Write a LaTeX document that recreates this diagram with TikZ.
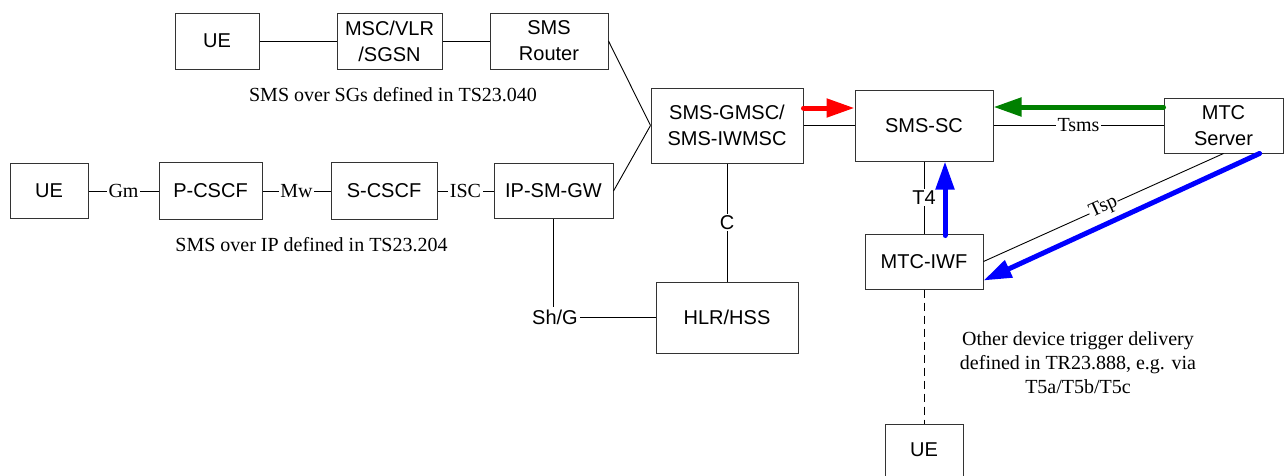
\documentclass[tikz,border=0pt]{standalone}
\usepackage{fontspec}
\setmainfont{Liberation Serif}
\setsansfont{Liberation Sans}
\usetikzlibrary{arrows.meta}
\definecolor{arrred}{RGB}{255,0,0}
\definecolor{arrgreen}{RGB}{0,128,0}
\definecolor{arrblue}{RGB}{0,0,255}
\tikzset{
  box/.style={draw=black!80, line width=1pt, inner sep=0pt, align=center,
    font=\sffamily\fontsize{20}{26}\selectfont},
  conn/.style={draw=black, line width=0.9pt},
  lbl/.style={fill=white, inner sep=1.5pt, font=\rmfamily\fontsize{20}{24}\selectfont},
  slbl/.style={fill=white, inner sep=1.5pt, font=\sffamily\fontsize{20}{24}\selectfont},
  note/.style={inner sep=0pt, align=center, font=\rmfamily\fontsize{20}{24}\selectfont},
  thick arrow/.style={line width=5pt, line cap=round,
    -{Triangle[length=28pt,width=18pt]}},
}
\begin{document}
\begin{tikzpicture}[x=1pt,y=-1pt]
\useasboundingbox (0,0) rectangle (1284,475);
% top row
\node[box, minimum width=84pt, minimum height=56pt] (ue1) at (217,41) {UE};
\node[box, minimum width=105pt, minimum height=56pt] (msc) at (389.5,41) {MSC/VLR\\/SGSN};
\node[box, minimum width=118pt, minimum height=56pt] (router) at (549,41) {SMS\\Router};
\node[note, anchor=base] (t1) at (393,101) {SMS over SGs defined in TS23.040};
% second row
\node[box, minimum width=78pt, minimum height=55pt] (ue2) at (49,191) {UE};
\node[box, minimum width=103pt, minimum height=57pt] (pcscf) at (210.5,191) {P-CSCF};
\node[box, minimum width=106pt, minimum height=57pt] (scscf) at (384,191) {S-CSCF};
\node[box, minimum width=119pt, minimum height=55pt] (ipsm) at (553.5,191) {IP-SM-GW};
\node[note, anchor=base] (t2) at (311.5,251) {SMS over IP defined in TS23.204};
% centre
\node[box, minimum width=152pt, minimum height=75pt] (gmsc) at (727,125.5) {SMS-GMSC/\\SMS-IWMSC};
\node[box, minimum width=138pt, minimum height=71pt] (smssc) at (924,125.5) {SMS-SC};
\node[box, minimum width=119pt, minimum height=55pt] (mtcs) at (1223.5,125.5) {MTC\\Server};
\node[box, minimum width=118pt, minimum height=55pt] (iwf) at (924,261.5) {MTC-IWF};
\node[box, minimum width=142pt, minimum height=71pt] (hlr) at (727,317.5) {HLR/HSS};
\node[box, minimum width=78pt, minimum height=52pt] (ue3) at (924,450) {UE};
\node[inner sep=2pt, font=\sffamily\fontsize{20}{24}\selectfont] (shg) at (555,317) {Sh/G};
\node[note] (t3) at (1078,363) {Other device trigger delivery\\defined in TR23.888, e.g. via\\T5a/T5b/T5c};
% connectors top row
\draw[conn] (ue1.east) -- (msc.west);
\draw[conn] (msc.east) -- (router.west);
\draw[conn] (router.east) -- (gmsc.west);
\draw[conn] (ipsm.east) -- (gmsc.west);
% second row
\draw[conn] (ue2.east) -- node[lbl] {Gm} (pcscf.west);
\draw[conn] (pcscf.east) -- node[lbl] {Mw} (scscf.west);
\draw[conn] (scscf.east) -- node[lbl] {ISC} (ipsm.west);
% centre
\draw[conn] (gmsc.east) -- (smssc.west);
\draw[conn] (smssc.east) -- node[lbl] {Tsms} (mtcs.west);
\draw[conn] (smssc.south) -- node[slbl] {T4} (iwf.north);
\draw[conn] (gmsc.south) -- node[slbl] {C} (hlr.north);
\draw[conn] (ipsm.south) -- (ipsm.south |- shg.north);
\draw[conn] (shg.east) -- (shg.east -| hlr.west);
\draw[conn] (mtcs.south) -- node[lbl, sloped, inner sep=1pt] {Tsp} (iwf.east);
\draw[conn, dash pattern=on 8pt off 5pt] (iwf.south) -- (ue3.north);
% coloured arrows
\draw[thick arrow, draw=arrred, fill=arrred] ([yshift=17.5pt]gmsc.east) -- ([yshift=17.5pt]smssc.west);
\draw[thick arrow, draw=arrgreen, fill=arrgreen] ([yshift=18.5pt]mtcs.west) -- ([yshift=18.5pt]smssc.east);
\draw[thick arrow, draw=arrblue, fill=arrblue] ([xshift=21pt,yshift=-2pt]iwf.north) -- ([xshift=21pt]smssc.south);
\draw[thick arrow, draw=arrblue, fill=arrblue] ([xshift=-24pt]mtcs.south east) -- ([yshift=9pt]iwf.south east);
\end{tikzpicture}
\end{document}
